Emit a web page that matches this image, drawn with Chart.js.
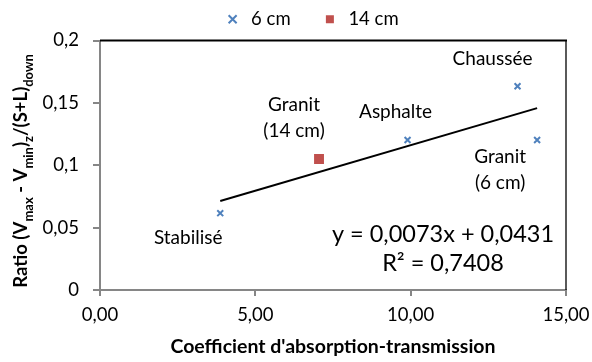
<!DOCTYPE html>
<html><head><meta charset="utf-8">
<script src="https://cdn.jsdelivr.net/npm/chart.js@4"></script>
<style>html,body{margin:0;padding:0;background:#fff}#wrap{width:592px;height:362px}</style>
</head><body><div id="wrap"><canvas id="c" width="592" height="362"></canvas></div>
<script>
const seriesNames = ['6 cm', '14 cm'];
const x6 = [3.87, 9.90, 13.44, 14.07];
const y6 = [0.0616, 0.1202, 0.1633, 0.1202];
const x14 = [7.05];
const y14 = [0.105];
const trendX = [3.87, 14.07];
const trendY = [0.0714, 0.1458];
const xTickLabels = ['0,00', '5,00', '10,00', '15,00'];
const yTickLabels = ['0', '0,05', '0,1', '0,15', '0,2'];
const pointNames6 = ['Stabilisé', 'Asphalte', 'Chaussée', 'Granit\n(6 cm)'];
const pointNames14 = ['Granit\n(14 cm)'];
const equationLines = ['y = 0,0073x + 0,0431', 'R² = 0,7408'];
const xTitle = "Coefficient d'absorption-transmission";

const FONT = 'Lato, "Noto Sans", sans-serif';

const toPts = (xs, ys) => xs.map((x, i) => ({x, y: ys[i]}));

const legendShift = {
  id: 'legendShift',
  afterLayout(chart) {
    const lg = chart.legend;
    const dx = 311 - (lg.left + lg.right) / 2;
    lg.left += dx; lg.right += dx;
    lg.top -= 2; lg.bottom -= 2;
  }
};

const labelPlugin = {
  id: 'labels',
  afterDatasetsDraw(chart) {
    const ctx = chart.ctx;
    const xs = chart.scales.x, ys = chart.scales.y;
    const ca = chart.chartArea;
    ctx.save();
    // top and right borders
    ctx.strokeStyle = '#000';
    ctx.lineWidth = 2;
    ctx.beginPath(); ctx.moveTo(ca.left, ca.top); ctx.lineTo(ca.right + 1, ca.top); ctx.stroke();
    ctx.lineWidth = 1.3;
    ctx.beginPath(); ctx.moveTo(ca.right, ca.top); ctx.lineTo(ca.right, ca.bottom); ctx.stroke();

    ctx.fillStyle = '#000';
    ctx.textAlign = 'center';
    ctx.textBaseline = 'middle';
    ctx.font = '19px ' + FONT;
    // offsets of point labels relative to their point (px)
    const off6 = [[-32, 25], [-12, -28], [-25, -27], [-37, 17]];
    pointNames6.forEach((name, i) => {
      const px = xs.getPixelForValue(x6[i]) + off6[i][0];
      const py = ys.getPixelForValue(y6[i]) + off6[i][1];
      name.split('\n').forEach((ln, k) => ctx.fillText(ln, px, py + k * 26));
    });
    const off14 = [[-25, -54]];
    pointNames14.forEach((name, i) => {
      const px = xs.getPixelForValue(x14[i]) + off14[i][0];
      const py = ys.getPixelForValue(y14[i]) + off14[i][1];
      name.split('\n').forEach((ln, k) => ctx.fillText(ln, px, py + k * 26));
    });
    // equation
    ctx.font = '23.5px ' + FONT;
    equationLines.forEach((ln, k) => ctx.fillText(ln, ca.right - 123, ca.top + 194 + k * 29));

    // y axis title with subscripts
    const parts = [
      ['Ratio (V', 0], ['max', 1], [' - V', 0], ['min', 1], [')', 0], ['z', 1], ['/(S+L)', 0], ['down', 1]
    ];
    const big = 'bold 18.5px ' + FONT, small = 'bold 13px ' + FONT;
    let total = 0;
    parts.forEach(p => { ctx.font = p[1] ? small : big; total += ctx.measureText(p[0]).width; });
    ctx.translate(27, 171);
    ctx.rotate(-Math.PI / 2);
    ctx.textAlign = 'left';
    ctx.textBaseline = 'alphabetic';
    let cx = -total / 2;
    parts.forEach(p => {
      ctx.font = p[1] ? small : big;
      ctx.fillText(p[0], cx, p[1] ? 6 : 0);
      cx += ctx.measureText(p[0]).width;
    });
    ctx.restore();
  }
};

new Chart(document.getElementById('c'), {
  type: 'scatter',
  data: {
    datasets: [
      {
        label: seriesNames[0], data: toPts(x6, y6),
        pointStyle: 'crossRot', radius: 4.2, borderColor: '#4F81BD', backgroundColor: '#4F81BD', borderWidth: 2
      },
      {
        label: seriesNames[1], data: toPts(x14, y14),
        pointStyle: 'rect', radius: 7, borderColor: '#C0504D', backgroundColor: '#C0504D', borderWidth: 0
      },
      {
        label: 'trend', data: toPts(trendX, trendY), type: 'line', showLine: true,
        borderColor: '#000', borderWidth: 2, pointRadius: 0, fill: false
      }
    ]
  },
  options: {
    responsive: false, animation: false, devicePixelRatio: 1,
    layout: { padding: { left: 40, right: 26, top: -18, bottom: 0 } },
    plugins: {
      legend: {
        position: 'top', maxHeight: 59,
        labels: {
          filter: item => item.datasetIndex < 2,
          usePointStyle: true, color: '#000',
          font: { family: FONT, size: 18.5 }, padding: 30, boxHeight: 8
        }
      },
      tooltip: { enabled: false }
    },
    scales: {
      x: {
        type: 'linear', min: 0, max: 15,
        ticks: { stepSize: 5, color: '#000', font: { family: FONT, size: 18.5 }, padding: 8,
          callback: (v, i) => xTickLabels[i] },
        grid: { display: true, drawOnChartArea: false, drawTicks: true, tickLength: 6, color: '#868686', lineWidth: 2 },
        border: { color: '#868686', width: 2 },
        title: { display: true, text: xTitle, color: '#000', font: { family: FONT, size: 19.5, weight: 'bold' }, padding: { top: 6 } },
        afterFit: s => { s.height = 72; s.paddingLeft = 0; s.paddingRight = 0; }
      },
      y: {
        type: 'linear', min: 0, max: 0.2,
        ticks: { stepSize: 0.05, color: '#000', font: { family: FONT, size: 18.5 }, padding: 14,
          callback: (v, i) => yTickLabels[i] },
        grid: { display: true, drawOnChartArea: false, drawTicks: true, tickLength: 7, color: '#868686', lineWidth: 2 },
        border: { color: '#868686', width: 2 },
        afterFit: s => { s.width = 60; s.paddingTop = 0; s.paddingBottom = 0; }
      }
    }
  },
  plugins: [legendShift, labelPlugin]
});
</script></body></html>
